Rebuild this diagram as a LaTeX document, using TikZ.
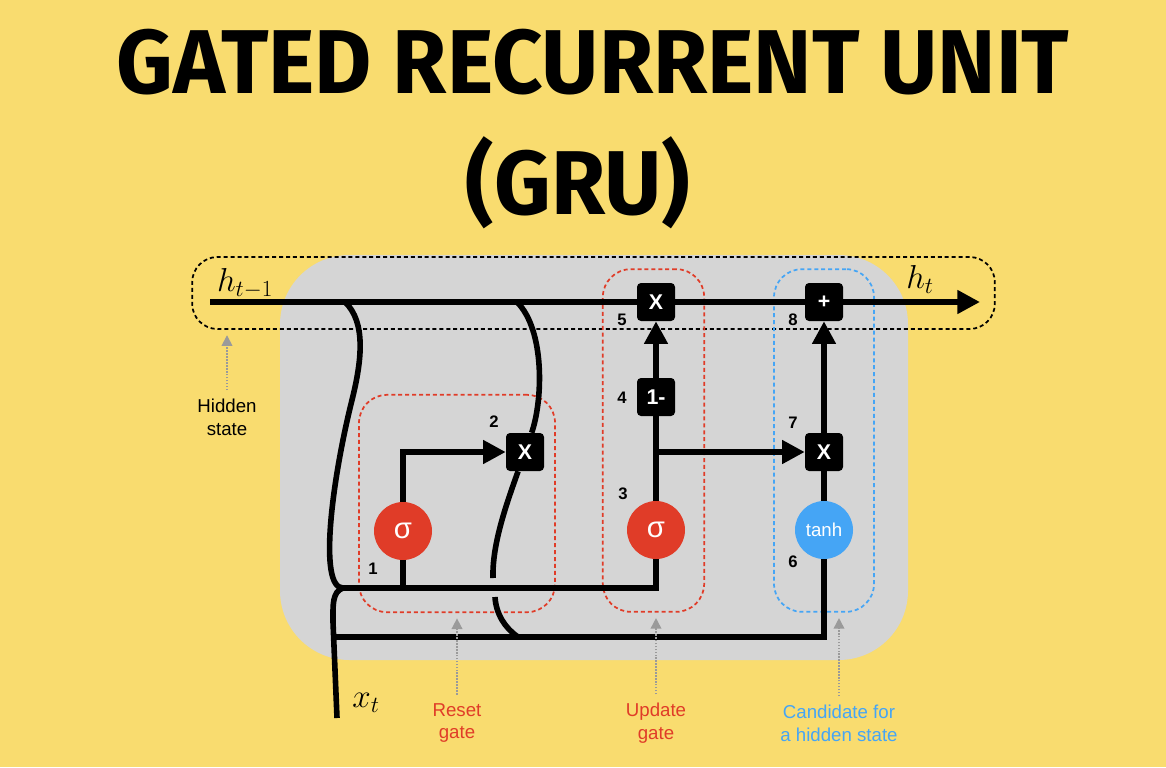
\documentclass[tikz,border=0pt]{standalone}
\usepackage{fontspec}
\setmainfont{Liberation Sans}
\newfontfamily\titlefont{Fira Sans}
\usetikzlibrary{arrows.meta}

\definecolor{bgyellow}{HTML}{F9DC6F}
\definecolor{cellgray}{HTML}{D5D5D5}
\definecolor{gatered}{HTML}{E03C28}
\definecolor{gateblue}{HTML}{45A5F5}
\definecolor{ptrgray}{HTML}{9A9A9A}

\begin{document}
\begin{tikzpicture}[x=0.75pt,y=-0.75pt,
  wire/.style={line width=4.2pt},
  tip/.style={-{Triangle[length=17pt,width=17pt]}},
  opbox/.style={fill=black,text=white,rounded corners=3pt,minimum size=28.5pt,
    inner sep=0pt,font=\bfseries\fontsize{16}{16}\selectfont},
  actnode/.style={circle,text=white,minimum size=43.5pt,inner sep=0pt},
  gatebox/.style={dash pattern=on 3pt off 2.2pt,line width=1.3pt,rounded corners=21pt},
  steplbl/.style={font=\bfseries\fontsize{12.5}{12.5}\selectfont},
  caption/.style={align=center,font=\fontsize{14}{17}\selectfont},
  pointer/.style={ptrgray,densely dotted,line width=1.2pt,
    -{Triangle[length=8pt,width=8pt]},shorten <=3pt,shorten >=4pt},
  mathlbl/.style={font=\fontsize{23}{27}\selectfont},
  titletxt/.style={font=\titlefont\bfseries\fontsize{68}{70}\selectfont}]
  \useasboundingbox (0,0) rectangle (1166,767);
  \fill[bgyellow] (0,0) rectangle (1166,767);

  \node[titletxt] (title) at (593,62) {\scalebox{0.97}[1]{GATED RECURRENT UNIT}};
  \node[titletxt] (gru) at (578,183) {\scalebox{0.97}[1]{(GRU)}};

  \fill[cellgray,rounded corners=52pt] (280,255) rectangle (908,660);

  \node[gatebox,draw,minimum width=602pt,minimum height=54pt,rounded corners=19pt] (hidbox) at (593.5,293) {};
  \node[gatebox,draw=gatered,minimum width=147pt,minimum height=163pt] (resetbox) at (457,503.5) {};
  \node[gatebox,draw=gatered,minimum width=76pt,minimum height=257pt] (updbox) at (653.5,440.5) {};
  \node[gatebox,draw=gateblue,minimum width=75pt,minimum height=257pt] (candbox) at (824,440.5) {};

  \node[opbox] (mul5) at (656,302) {X};
  \node[opbox] (add8) at (824,302) {+};
  \node[opbox] (one4) at (656,397) {1-};
  \node[opbox] (mul7) at (824,452) {X};
  \node[opbox] (mul2) at (525,452) {X};
  \node[actnode,fill=gatered,font=\fontsize{22}{22}\selectfont] (sig1) at (403,531) {σ};
  \node[actnode,fill=gatered,font=\fontsize{22}{22}\selectfont] (sig3) at (656,530) {σ};
  \node[actnode,fill=gateblue,font=\fontsize{14}{14}\selectfont] (tanh6) at (824,530) {tanh};

  \coordinate (hin) at (210,302);
  \coordinate (hout) at (980,302);
  \coordinate (ja) at (345,302);
  \coordinate (jb) at (517,302);
  \coordinate (jr) at (343,588);
  \coordinate (jx) at (334,637);
  \coordinate (jc) at (518,637);
  \coordinate (xin) at (337,718);
  \coordinate (gapa) at (493,578);
  \coordinate (gapb) at (495,597);

  \draw[wire] (hin) -- (mul5) -- (add8);
  \draw[wire,tip] (add8) -- (hout);
  \draw[wire] (ja) .. controls (366,322) and (362,360) .. (352,400)
    .. controls (332,480) and (318,588) .. (jr);
  \draw[wire] (jr) .. controls (332,592) and (333,605) .. (333,622) -- (xin);
  \draw[wire] (jr) -- (sig3 |- jr) -- (sig3);
  \draw[wire] (sig1 |- jr) -- (sig1);
  \draw[wire,tip] (sig1) |- (mul2);
  \draw[wire] (jx) -- (tanh6 |- jx) -- (tanh6);
  \draw[wire] (jb) .. controls (545,330) and (543,400) .. (mul2);
  \draw[wire] (mul2) .. controls (506,505) and (492,545) .. (gapa);
  \draw[wire] (gapb) .. controls (496,614) and (505,628) .. (jc);
  \draw[wire] (sig3) -- (one4);
  \draw[wire,tip] (one4) -- (mul5);
  \draw[wire,tip] (sig3 |- mul7) -- (mul7);
  \draw[wire] (tanh6) -- (mul7);
  \draw[wire,tip] (mul7) -- (add8);

  \foreach \n/\px/\py in {1/373/569,2/494/422,3/623/494,4/622/398,
    5/622/320,6/793/562,7/793/423,8/793/320}
    \node[steplbl] (n\n) at (\px,\py) {\n};

  \node[mathlbl] (hprev) at (245,283) {$h_{t-1}$};
  \node[mathlbl] (hnext) at (920,279) {$h_t$};
  \node[mathlbl] (xt) at (366,703) {$x_t$};

  \node[caption] (hidlbl) at (227,417) {Hidden\\state};
  \node[caption,text=gatered] (resetlbl) at (457,723) {Reset\\gate};
  \node[caption,text=gatered] (updlbl) at (656,723) {Update\\gate};
  \node[caption,text=gateblue] (candlbl) at (839,723) {Candidate for\\a hidden state};

  \draw[pointer] (hidlbl.north) -- (hidlbl.north |- hidbox.south);
  \draw[pointer] (resetlbl.north) -- (resetlbl.north |- resetbox.south);
  \draw[pointer] (updlbl.north) -- (updlbl.north |- updbox.south);
  \draw[pointer] (candlbl.north) -- (candlbl.north |- candbox.south);
\end{tikzpicture}
\end{document}
